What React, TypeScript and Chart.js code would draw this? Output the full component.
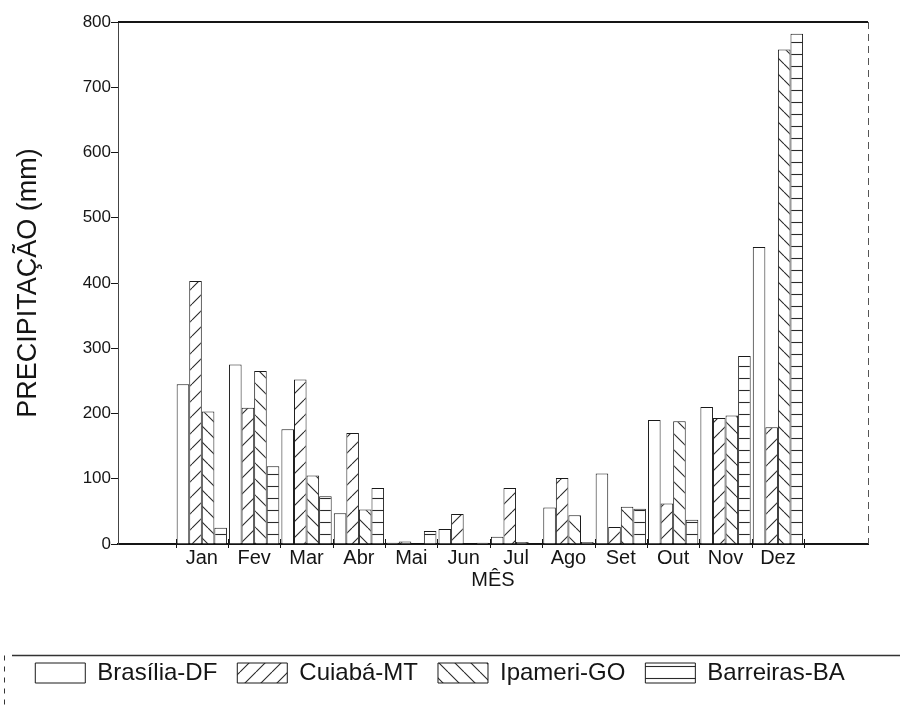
import React, { useEffect, useRef } from "react";
import { Chart, registerables } from "chart.js";

Chart.register(...registerables);

// ---- data ----
const months = ["Jan", "Fev", "Mar", "Abr", "Mai", "Jun", "Jul", "Ago", "Set", "Out", "Nov", "Dez"];
const monthNumbers = [1, 2, 3, 4, 5, 6, 7, 8, 9, 10, 11, 12];
const seriesNames = ["Brasília-DF", "Cuiabá-MT", "Ipameri-GO", "Barreiras-BA"];
const brasilia = [245, 275, 176, 47, 2, 23, 11, 56, 108, 190, 210, 455];
const cuiaba = [403, 209, 252, 170, 4, 46, 86, 101, 26, 62, 193, 179];
const ipameri = [203, 265, 105, 53, 1, 1, 3, 44, 57, 188, 197, 758];
const barreiras = [25, 119, 73, 86, 20, 2, 1, 3, 54, 37, 288, 782];
const yTickValues = [0, 100, 200, 300, 400, 500, 600, 700, 800];
const yTitle = "PRECIPITAÇÃO (mm)";
const xTitle = "MÊS";

const FONT = "'Liberation Sans', Arial, Helvetica, sans-serif";
const INK = "#151515";

function makePattern(kind: "none" | "fwd" | "back" | "horiz"): CanvasPattern | string {
  if (kind === "none") return "#ffffff";
  const c = document.createElement("canvas");
  const w = 16;
  const h = kind === "horiz" ? 12 : 16;
  c.width = w;
  c.height = h;
  const g = c.getContext("2d")!;
  g.fillStyle = "#ffffff";
  g.fillRect(0, 0, w, h);
  g.strokeStyle = "#2a2a2a";
  g.lineWidth = 1.1;
  g.beginPath();
  if (kind === "fwd") {
    for (const o of [-w, 0, w]) {
      g.moveTo(o, h);
      g.lineTo(o + w, 0);
    }
  } else if (kind === "back") {
    for (const o of [-w, 0, w]) {
      g.moveTo(o, 0);
      g.lineTo(o + w, h);
    }
  } else {
    g.moveTo(0, h / 2 + 0.5);
    g.lineTo(w, h / 2 + 0.5);
  }
  g.stroke();
  return g.createPattern(c, "repeat")!;
}

const framePlugin = {
  id: "frame",
  afterDraw(chart: any) {
    const { ctx, chartArea } = chart;
    const { left, right, top, bottom } = chartArea;
    const xs = chart.scales.x;
    ctx.save();
    ctx.strokeStyle = INK;
    ctx.lineWidth = 2;
    ctx.beginPath();
    ctx.moveTo(left, top);
    ctx.lineTo(right, top);
    ctx.stroke();
    ctx.lineWidth = 1;
    ctx.strokeStyle = "#555";
    ctx.setLineDash([7, 5]);
    ctx.beginPath();
    ctx.moveTo(right + 0.5, top);
    ctx.lineTo(right + 0.5, bottom);
    ctx.stroke();
    ctx.setLineDash([]);
    ctx.strokeStyle = INK;
    for (let k = 0; k <= monthNumbers.length; k++) {
      const px = Math.round(xs.getPixelForValue(k + 0.5)) + 0.5;
      ctx.beginPath();
      ctx.moveTo(px, bottom - 5);
      ctx.lineTo(px, bottom + 4);
      ctx.stroke();
    }
    const lg = chart.legend;
    if (lg && lg.legendHitBoxes && lg.legendHitBoxes.length) {
      const y0 = Math.round(lg.legendHitBoxes[0].top - 6) + 0.5;
      ctx.strokeStyle = "#333";
      ctx.lineWidth = 1.5;
      ctx.beginPath();
      ctx.moveTo(12, y0);
      ctx.lineTo(chart.width, y0);
      ctx.stroke();
      ctx.lineWidth = 1;
      ctx.setLineDash([5, 6]);
      ctx.beginPath();
      ctx.moveTo(4.5, y0);
      ctx.lineTo(4.5, chart.height);
      ctx.stroke();
      ctx.setLineDash([]);
    }
    ctx.restore();
  },
};

export default function App() {
  const ref = useRef<HTMLCanvasElement | null>(null);

  useEffect(() => {
    document.body.style.margin = "0";
    document.body.style.overflow = "hidden";
    const canvas = ref.current!;
    Chart.defaults.font.family = FONT;
    Chart.defaults.color = INK;

    const patterns = [makePattern("none"), makePattern("fwd"), makePattern("back"), makePattern("horiz")];
    const values = [brasilia, cuiaba, ipameri, barreiras];

    const chart = new Chart(canvas, {
      type: "bar",
      data: {
        labels: monthNumbers,
        datasets: seriesNames.map((name, i) => ({
          label: name,
          data: values[i],
          backgroundColor: patterns[i] as any,
          borderColor: "#1a1a1a",
          borderWidth: 1,
          borderSkipped: "bottom" as const,
          categoryPercentage: 0.96,
          barPercentage: 1.0,
        })),
      },
      options: {
        responsive: false,
        animation: false,
        devicePixelRatio: 1,
        layout: { padding: { left: 12, right: 32, top: 22, bottom: 13 } },
        plugins: {
          tooltip: { enabled: false },
          legend: {
            display: true,
            position: "bottom",
            labels: {
              boxWidth: 50,
              boxHeight: 20,
              padding: 20,
              color: INK,
              font: { size: 24, family: FONT },
            },
          },
        },
        scales: {
          x: {
            type: "linear",
            min: -0.6,
            max: 13.72,
            offset: false,
            afterBuildTicks: (scale: any) => {
              scale.ticks = monthNumbers.map((v) => ({ value: v }));
            },
            afterFit: (scale: any) => {
              scale.height = 97;
            },
            grid: { display: false, drawTicks: false },
            border: { display: true, width: 2, color: INK },
            ticks: {
              autoSkip: false,
              maxRotation: 0,
              padding: 2,
              color: INK,
              font: { size: 20, family: FONT },
              callback: (v: any) => months[Number(v) - 1] ?? "",
            },
            title: {
              display: true,
              text: xTitle,
              color: INK,
              font: { size: 20, family: FONT },
              padding: { top: 0, bottom: 49 },
            },
          },
          y: {
            min: 0,
            max: 800,
            afterBuildTicks: (scale: any) => {
              scale.ticks = yTickValues.map((v) => ({ value: v }));
            },
            afterFit: (scale: any) => {
              scale.width = 106;
            },
            grid: {
              display: true,
              drawOnChartArea: false,
              drawTicks: true,
              tickLength: 7,
              color: INK,
              lineWidth: 1,
            },
            border: { display: true, width: 1, color: "#444", dash: [6, 4] },
            ticks: {
              padding: 0,
              color: INK,
              font: { size: 17, family: FONT },
            },
            title: {
              display: true,
              text: yTitle,
              color: INK,
              font: { size: 27, family: FONT },
              padding: { top: 0, bottom: 0 },
            },
          },
        },
      },
      plugins: [framePlugin],
    } as any);

    return () => chart.destroy();
  }, []);

  return (
    <canvas
      ref={ref}
      width={900}
      height={708}
      style={{ display: "block", width: 900, height: 708 }}
    />
  );
}
